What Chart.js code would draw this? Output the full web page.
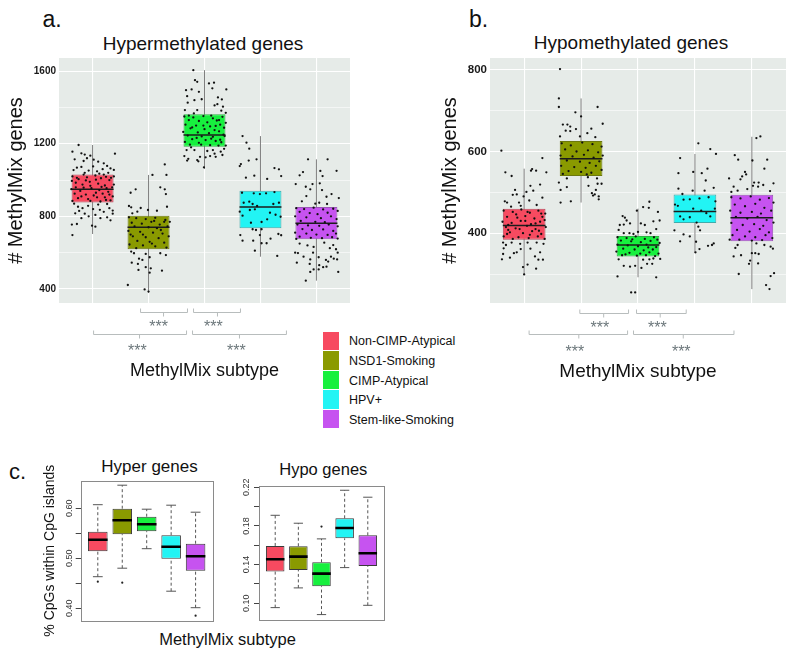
<!DOCTYPE html>
<html>
<head>
<meta charset="utf-8">
<script src="https://cdn.jsdelivr.net/npm/chart.js@4.4.1/dist/chart.umd.min.js"></script>
<style>
  body { margin: 0; background: #fff; width: 790px; height: 651px; overflow: hidden; position: relative;
         font-family: "Liberation Sans", Arial, sans-serif; }
  canvas { position: absolute; }
  .t { position: absolute; transform: translate(-50%, -50%); white-space: nowrap; line-height: 1; color: #111; }
  .lg { position: absolute; white-space: nowrap; line-height: 1; font-size: 12.5px; color: #111; transform: translateY(-50%); }
  .sw { position: absolute; width: 16px; height: 18.5px; }
</style>
</head>
<body>
<div class="t" style="left:52px;top:18.5px;font-size:23px">a.</div>
<div class="t" style="left:478.5px;top:18.5px;font-size:23px">b.</div>
<div class="t" style="left:17.5px;top:472px;font-size:22px">c.</div>
<div class="t" style="left:203px;top:42.7px;font-size:19px">Hypermethylated genes</div>
<div class="t" style="left:631px;top:42.4px;font-size:19px">Hypomethylated genes</div>
<div class="t" style="left:149.5px;top:466px;font-size:17px">Hyper genes</div>
<div class="t" style="left:323.3px;top:469.3px;font-size:16.5px">Hypo genes</div>
<div class="t" style="left:227.5px;top:638.5px;font-size:16.5px">MethylMix subtype</div>
<div id="legend"></div>

<canvas id="chartA" style="left:0;top:0" width="390" height="395"></canvas>
<canvas id="chartB" style="left:400px;top:0" width="390" height="395"></canvas>
<canvas id="chartC1" style="left:0;top:440px" width="230" height="211"></canvas>
<canvas id="chartC2" style="left:230px;top:440px" width="170" height="211"></canvas>

<script>
Chart.defaults.font.family = '"Liberation Sans", Arial, sans-serif';
Chart.defaults.animation = false;

const subtypes = ['Non-CIMP-Atypical', 'NSD1-Smoking', 'CIMP-Atypical', 'HPV+', 'Stem-like-Smoking'];
const subtypeColors = ['#f74a60', '#8a9a00', '#17f03e', '#22f4f4', '#c653f0'];
const boxEdges = ['#b9465a', '#6c780e', '#2fb244', '#40abab', '#9a55b6'];

// a. hypermethylated genes: box stats per subtype
const hyperLo  = [703, 380, 1061, 578, 446];
const hyperQ1  = [877, 619, 1184, 734, 674];
const hyperMed = [949, 740, 1248, 851, 762];
const hyperQ3  = [1031, 804, 1362, 941, 851];
const hyperHi  = [1193, 1028, 1605, 1242, 1114];
const hyperMajor = [400, 800, 1200, 1600];
const hyperGrid = [400, 600, 800, 1000, 1200, 1400, 1600];
// jittered samples: [offset within group, genes]
const hyperPoints = [
  [[-0.25,1193],[-0.36,1156],[-0.20,1147],[-0.04,1134],[-0.14,1140],[-0.10,1120],[0.40,1145],[-0.32,1114],[0.02,1112],[0.10,1101],
   [0.20,1092],[0.26,1078],[-0.16,1105],[-0.20,1072],[0.32,1064],[0.38,1056],[0.18,1060],[0.01,1075],[-0.28,1068],[-0.07,1052],
   [0.08,1048],[-0.34,1055],[-0.14,1040],[0.28,1040],[-0.36,1020],[-0.25,1005],[-0.10,1015],[0.05,1025],[0.15,1010],[0.30,1000],
   [0.38,1020],[-0.30,985],[-0.18,975],[-0.05,990],[0.10,980],[0.22,970],[0.35,960],[-0.38,950],[-0.22,940],[-0.02,955],
   [0.12,945],[0.28,935],[-0.32,925],[-0.12,920],[0.02,915],[0.18,925],[0.36,910],[-0.26,900],[-0.08,895],[0.08,905],
   [0.24,890],[-0.36,885],[0.14,882],[0.32,888],[-0.26,853],[-0.18,845],[0.01,840],[0.13,836],[0.30,845],[-0.31,817],
   [-0.14,815],[-0.07,800],[0.05,808],[0.36,815],[-0.20,790],[0.14,790],[0.26,795],[-0.28,758],[-0.37,755],[-0.01,749],
   [0.32,778],[0.05,743],[-0.36,697],[-0.30,960],[0.20,1030],[-0.16,1030],[0.33,1012],[-0.04,968],[0.25,955],[-0.33,870],
   [-0.12,998],[0.06,1002],[0.24,1018],[-0.28,1012],[0.16,962],[-0.16,958],[0.30,920],[-0.20,910],[0.06,930],[-0.04,885],
   [0.22,905],[0.38,975],[-0.37,995],[0.12,1035],[-0.24,830],[0.20,825],[0.36,832],[-0.08,858],[0.10,865],[0.26,868]],
  [[0.29,1086],[0.07,1028],[0.32,1028],[-0.23,949],[-0.32,930],[0.21,960],[0.29,949],[0.31,923],[-0.35,857],[-0.31,850],
   [-0.14,846],[0.33,853],[0.15,831],[-0.29,817],[-0.20,826],[-0.01,835],[-0.35,795],[-0.22,790],[-0.05,785],[0.12,792],
   [0.30,780],[0.38,770],[-0.30,765],[-0.12,760],[0.05,770],[0.20,755],[-0.25,745],[0.00,740],[0.15,735],[0.34,745],
   [-0.36,720],[-0.15,715],[0.08,710],[0.25,705],[-0.28,690],[-0.05,685],[0.18,680],[0.36,690],[-0.20,665],[0.02,660],
   [0.28,655],[-0.34,645],[-0.10,640],[0.12,635],[0.32,628],[-0.22,625],[-0.31,606],[-0.26,597],[-0.05,593],[0.02,575],
   [0.21,597],[0.31,587],[-0.17,567],[-0.30,545],[-0.19,538],[-0.11,560],[-0.05,520],[0.04,514],[0.24,501],[-0.18,505],
   [0.02,490],[-0.37,422],[-0.07,398],[0.00,386],[0.10,775],[-0.10,700],[0.22,725],[0.28,770],[-0.32,700],[0.06,650]],
  [[-0.20,1605],[-0.17,1550],[-0.13,1541],[0.08,1532],[0.17,1536],[0.14,1505],[-0.33,1495],[-0.23,1499],[-0.10,1486],[0.39,1499],
   [-0.31,1462],[0.24,1455],[0.31,1444],[-0.18,1440],[-0.05,1445],[-0.30,1426],[0.23,1418],[0.18,1411],[-0.13,1385],[0.33,1404],
   [0.30,1382],[-0.35,1385],[-0.19,1367],[0.38,1370],[-0.36,1350],[-0.20,1345],[-0.02,1352],[0.15,1340],[0.32,1348],[-0.28,1330],
   [-0.10,1325],[0.05,1318],[0.22,1328],[0.38,1315],[-0.34,1305],[-0.15,1300],[0.10,1295],[0.28,1305],[-0.25,1285],[0.00,1280],
   [0.18,1275],[0.35,1288],[-0.38,1265],[-0.12,1262],[0.08,1258],[0.26,1268],[-0.30,1245],[-0.05,1240],[0.15,1238],[0.36,1242],
   [-0.22,1225],[0.02,1220],[0.20,1215],[-0.35,1210],[-0.10,1205],[0.30,1208],[-0.26,1195],[0.10,1192],[0.38,1190],[-0.32,1165],
   [-0.24,1180],[0.15,1165],[0.29,1156],[0.32,1138],[0.18,1145],[-0.36,1132],[-0.29,1117],[-0.13,1110],[-0.08,1128],[0.02,1125],
   [0.10,1132],[0.20,1128],[-0.31,1107],[-0.11,1103],[-0.01,1070],[0.26,1330],[-0.22,1290],[0.12,1228],[-0.02,1300],[0.34,1250],
   [-0.06,1195],[0.25,1190],[0.35,1172],[0.05,1160],[-0.18,1165],[0.12,1355],[-0.28,1355],[0.20,1298],[-0.14,1232],[0.28,1222]],
  [[-0.32,1242],[-0.25,1206],[-0.20,1173],[-0.37,1077],[-0.35,1088],[-0.21,1107],[-0.07,1114],[0.25,1066],[0.33,1059],[-0.11,1024],
   [-0.26,1013],[0.12,1006],[0.37,1022],[-0.33,930],[-0.12,927],[-0.01,923],[0.10,927],[0.25,934],[-0.30,875],[-0.20,881],
   [-0.14,868],[-0.06,857],[0.23,868],[0.33,875],[-0.37,826],[-0.19,835],[-0.10,839],[0.17,820],[0.27,809],[0.36,798],
   [-0.17,765],[0.02,769],[-0.32,804],[0.12,784],[-0.14,729],[-0.08,725],[0.02,729],[-0.01,697],[-0.36,697],[0.32,703],
   [0.37,696],[-0.32,666],[-0.13,666],[0.02,652],[0.11,652],[0.18,677],[-0.10,611],[0.30,582]],
  [[-0.15,1114],[0.20,1114],[0.07,1050],[-0.24,1044],[0.36,1051],[0.11,1022],[-0.30,1026],[-0.37,978],[-0.19,963],[-0.07,978],
   [0.06,982],[-0.11,949],[0.10,945],[-0.18,912],[0.18,908],[0.27,923],[0.40,901],[-0.26,883],[0.05,875],[0.19,868],
   [-0.02,870],[-0.36,845],[-0.22,840],[-0.05,848],[0.12,838],[0.30,842],[0.38,830],[-0.30,825],[-0.12,818],[0.02,812],
   [0.20,820],[-0.38,800],[-0.18,795],[0.08,790],[0.26,800],[0.36,785],[-0.28,775],[-0.02,770],[0.15,768],[-0.34,755],
   [-0.15,750],[0.05,748],[0.22,755],[0.38,745],[-0.25,730],[-0.08,725],[0.12,728],[0.30,720],[-0.38,710],[-0.18,705],
   [0.00,700],[0.20,698],[0.35,705],[-0.30,688],[-0.10,682],[0.10,680],[0.28,685],[-0.36,676],[0.38,678],[-0.38,600],
   [-0.33,598],[-0.06,600],[-0.23,578],[0.04,575],[-0.11,563],[0.35,619],[0.38,600],[0.26,578],[0.31,567],[0.17,560],
   [0.21,551],[0.37,563],[-0.35,545],[-0.12,538],[0.05,531],[0.18,523],[0.39,494],[-0.11,494],[-0.05,508],[0.04,508],
   [-0.19,446],[0.12,520],[-0.30,650],[-0.16,640],[0.14,655],[0.30,642],[-0.05,632],[0.24,625]]
];

// b. hypomethylated genes
const hypoLo  = [298, 475, 292, 351, 263];
const hypoQ1  = [384, 540, 343, 425, 380];
const hypoMed = [419, 582, 371, 453, 438];
const hypoQ3  = [460, 626, 393, 495, 494];
const hypoHi  = [558, 730, 460, 594, 636];
const hypoMajor = [400, 600, 800];
const hypoGrid = [300, 400, 500, 600, 700, 800];
const hypoPoints = [
  [[-0.40,602],[-0.33,549],[-0.22,540],[0.14,557],[0.12,553],[0.21,553],[0.39,549],[0.32,584],[-0.16,506],[0.11,516],
   [0.28,519],[-0.20,494],[-0.13,495],[-0.01,490],[0.04,501],[0.16,504],[-0.34,478],[-0.30,475],[-0.09,475],[0.09,480],
   [0.22,469],[0.32,487],[-0.23,465],[-0.06,467],[-0.36,455],[-0.20,452],[-0.05,458],[0.10,450],[0.25,455],[0.37,448],
   [-0.30,440],[-0.12,438],[0.02,442],[0.18,436],[0.32,440],[-0.38,428],[-0.22,425],[-0.06,430],[0.12,422],[0.28,428],
   [-0.32,415],[-0.15,412],[0.05,418],[0.20,410],[0.38,415],[-0.25,402],[-0.02,400],[0.14,405],[0.30,398],[-0.36,392],
   [-0.10,390],[0.08,388],[0.24,392],[-0.20,386],[0.36,386],[-0.37,377],[-0.32,371],[-0.22,377],[-0.07,374],[0.06,377],
   [0.22,377],[0.34,374],[-0.36,363],[0.11,362],[-0.18,351],[-0.13,353],[0.28,353],[-0.37,349],[-0.25,340],[-0.06,361],
   [0.19,343],[0.25,335],[-0.39,336],[0.33,335],[0.06,323],[-0.02,317],[0.21,313],[0.00,299],[0.36,432],[-0.28,408],
   [-0.14,446],[0.06,452],[0.30,448],[-0.28,420],[0.20,424],[-0.08,410],[0.10,396],[-0.30,398],[0.26,406],[0.02,430]],
  [[-0.37,802],[-0.39,730],[-0.39,709],[0.29,709],[-0.10,696],[0.00,686],[0.38,668],[-0.32,666],[-0.24,666],[-0.19,661],
   [-0.27,651],[-0.19,650],[-0.09,655],[0.18,656],[0.11,645],[-0.37,637],[-0.02,637],[0.25,635],[-0.34,620],[-0.18,615],
   [0.02,622],[0.20,618],[0.36,612],[-0.28,605],[-0.08,600],[0.12,603],[0.30,598],[-0.36,590],[-0.15,588],[0.05,592],
   [0.22,585],[0.38,590],[-0.25,578],[-0.02,575],[0.15,572],[0.32,576],[-0.35,565],[-0.12,562],[0.08,560],[0.26,565],
   [-0.22,552],[0.00,550],[0.18,548],[0.36,555],[-0.32,545],[0.10,544],[-0.25,534],[0.12,537],[0.28,534],[-0.39,524],
   [-0.25,513],[0.13,516],[0.29,521],[0.36,521],[-0.36,506],[0.26,506],[0.19,498],[0.24,495],[0.31,490],[0.21,492],
   [-0.18,478],[-0.36,475],[0.31,483]],
  [[-0.27,442],[-0.23,438],[-0.20,431],[-0.14,424],[-0.25,421],[-0.32,420],[-0.02,455],[-0.34,408],[-0.25,400],[-0.15,400],
   [-0.08,398],[0.00,403],[0.20,477],[0.09,464],[0.19,462],[0.35,452],[0.05,424],[0.12,420],[0.27,429],[0.38,431],
   [0.32,410],[0.22,400],[0.15,402],[-0.36,390],[-0.20,388],[-0.04,392],[0.12,386],[0.28,390],[-0.30,382],[-0.12,380],
   [0.05,378],[0.22,381],[0.38,376],[-0.36,372],[-0.18,370],[0.00,368],[0.15,372],[0.32,366],[-0.26,362],[-0.06,360],
   [0.10,358],[0.26,360],[-0.38,355],[-0.15,352],[0.04,350],[0.20,353],[0.36,350],[-0.28,346],[-0.02,345],[0.14,346],
   [0.30,344],[-0.34,336],[-0.25,320],[-0.14,318],[-0.05,320],[-0.36,294],[-0.12,255],[-0.05,255],[0.09,335],[0.20,336],
   [0.27,338],[0.39,337],[0.16,325],[0.06,315],[0.25,325],[0.32,292],[-0.10,385],[0.18,365],[-0.22,348],[0.34,384]],
  [[0.06,620],[0.27,606],[0.37,594],[-0.26,584],[-0.03,550],[0.22,558],[0.12,547],[-0.29,547],[0.19,529],[-0.29,509],
   [-0.04,504],[0.17,504],[0.33,511],[-0.22,496],[-0.20,482],[-0.09,483],[0.08,485],[0.24,488],[0.36,478],[-0.30,467],
   [-0.03,460],[0.11,455],[0.20,449],[-0.26,441],[-0.09,439],[0.27,441],[-0.20,434],[0.03,426],[-0.35,470],[0.35,460],
   [-0.36,407],[-0.20,397],[-0.09,392],[0.06,416],[0.09,407],[-0.26,380],[0.02,379],[0.08,361],[0.23,369],[0.30,371],
   [0.33,375],[0.01,353]],
  [[0.08,633],[0.15,637],[-0.30,591],[-0.24,580],[0.01,578],[0.27,580],[0.22,558],[-0.12,550],[-0.17,539],[-0.10,544],
   [-0.40,534],[-0.20,532],[0.04,524],[0.02,516],[0.12,524],[0.20,518],[0.38,522],[-0.32,514],[-0.25,504],[-0.08,508],
   [0.32,503],[0.11,514],[-0.36,501],[-0.36,488],[-0.20,485],[-0.02,490],[0.14,482],[0.30,486],[0.38,475],[-0.30,470],
   [-0.12,466],[0.06,472],[0.22,462],[-0.38,455],[-0.20,450],[0.00,452],[0.16,448],[0.34,455],[-0.28,440],[-0.08,436],
   [0.10,440],[0.26,432],[-0.36,425],[-0.16,420],[0.04,422],[0.20,418],[0.38,426],[-0.26,408],[-0.04,404],[0.14,410],
   [0.30,402],[-0.34,395],[-0.12,392],[0.06,390],[0.24,395],[0.36,388],[-0.22,384],[0.00,382],[0.18,383],[-0.39,384],
   [-0.25,371],[-0.29,364],[0.08,375],[0.22,371],[0.33,367],[0.37,362],[-0.32,343],[-0.19,346],[0.00,351],[0.06,351],
   [0.12,349],[-0.03,333],[-0.05,325],[0.11,326],[-0.23,300],[0.39,302],[0.33,295],[0.25,273],[0.31,263]]
];

// c. % CpGs within CpG islands
const cpgHyperLo  = [0.463, 0.480, 0.519, 0.434, 0.401];
const cpgHyperQ1  = [0.514, 0.548, 0.554, 0.499, 0.475];
const cpgHyperMed = [0.537, 0.576, 0.568, 0.523, 0.504];
const cpgHyperQ3  = [0.553, 0.599, 0.583, 0.546, 0.529];
const cpgHyperHi  = [0.607, 0.646, 0.598, 0.606, 0.592];
const cpgHyperOut = [[0.453], [0.451], [], [], [0.385]];
const cpgHyperTicks = [0.40, 0.45, 0.50, 0.55, 0.60];
const cpgHyperLabels = [0.40, 0.50, 0.60];

const cpgHypoLo  = [0.0955, 0.1159, 0.0883, 0.1369, 0.0979];
const cpgHypoQ1  = [0.1328, 0.1345, 0.1176, 0.1672, 0.1386];
const cpgHypoMed = [0.1455, 0.1483, 0.1307, 0.1779, 0.1517];
const cpgHypoQ3  = [0.1593, 0.1590, 0.1424, 0.1879, 0.1703];
const cpgHypoHi  = [0.1910, 0.1828, 0.1666, 0.2169, 0.2097];
const cpgHypoOut = [[], [], [0.1793], [], []];
const cpgHypoTicks = [0.10, 0.12, 0.14, 0.16, 0.18, 0.20, 0.22];
const cpgHypoLabels = [0.10, 0.14, 0.18, 0.22];

const groupPos = [1, 2, 3, 4, 5];

// legend
const legendBox = document.getElementById('legend');
subtypes.forEach((name, i) => {
  const sw = document.createElement('div');
  sw.className = 'sw';
  sw.style.left = '323px';
  sw.style.top = (331.5 + i * 19.6) + 'px';
  sw.style.background = subtypeColors[i];
  legendBox.appendChild(sw);
  const lb = document.createElement('div');
  lb.className = 'lg';
  lb.style.left = '349px';
  lb.style.top = (341.2 + i * 19.7) + 'px';
  lb.textContent = name;
  legendBox.appendChild(lb);
});

function segs(pairs) {
  const out = [];
  pairs.forEach(p => { out.push(p[0], p[1], {x: p[0].x, y: null}); });
  return out;
}

const panelBg = {
  id: 'panelBg',
  beforeDraw(chart, args, o) {
    if (!o.color) return;
    const {ctx, chartArea: a} = chart;
    ctx.save();
    ctx.fillStyle = o.color;
    ctx.fillRect(a.left, a.top, a.width, a.height);
    ctx.restore();
  }
};

const brackets = {
  id: 'brackets',
  afterDraw(chart, args, o) {
    if (!o.items) return;
    const {ctx, chartArea} = chart;
    const xs = chart.scales.x;
    ctx.save();
    ctx.strokeStyle = '#b8bdbd';
    ctx.lineWidth = 1;
    ctx.fillStyle = '#6c777b';
    ctx.font = '16px "Liberation Sans", Arial, sans-serif';
    ctx.textAlign = 'center';
    ctx.textBaseline = 'middle';
    o.items.forEach(b => {
      const x1 = xs.getPixelForValue(b.from), x2 = xs.getPixelForValue(b.to), xm = xs.getPixelForValue(b.mid);
      const y = Math.round(chartArea.bottom + b.drop) + 0.5;
      ctx.beginPath();
      ctx.moveTo(x1, y - 4); ctx.lineTo(x1, y); ctx.lineTo(x2, y); ctx.lineTo(x2, y - 4);
      ctx.moveTo(xm, y); ctx.lineTo(xm, y + 4);
      ctx.stroke();
      ctx.fillText('***', xs.getPixelForValue(b.star), y + b.gap);
    });
    ctx.restore();
  }
};

function ggBoxChart(id, d) {
  const whisk = segs(groupPos.map((k, i) => [{x: k, y: d.lo[i]}, {x: k, y: d.hi[i]}]));
  const meds = segs(groupPos.map((k, i) => [{x: k - 0.375, y: d.med[i]}, {x: k + 0.375, y: d.med[i]}]));
  const pts = [];
  d.points.forEach((grp, i) => grp.forEach(p => pts.push({x: groupPos[i] + p[0], y: p[1]})));
  return new Chart(document.getElementById(id), {
    type: 'bar',
    data: {
      datasets: [
        {type: 'line', data: whisk, borderColor: '#7f7f7f', borderWidth: 1, pointRadius: 0, spanGaps: false, order: 4},
        {type: 'bar', data: groupPos.map((k, i) => ({x: k, y: [d.q1[i], d.q3[i]]})),
         backgroundColor: subtypeColors, borderColor: boxEdges, borderWidth: 1, borderSkipped: false,
         barPercentage: 0.75, categoryPercentage: 1, order: 3},
        {type: 'line', data: meds, borderColor: '#1c1c1c', borderWidth: 1.5, pointRadius: 0, spanGaps: false, order: 2},
        {type: 'scatter', data: pts, pointRadius: 1.15, pointBackgroundColor: '#111', pointBorderWidth: 0, order: 1}
      ]
    },
    options: {
      responsive: false,
      events: [],
      layout: {padding: d.pad},
      scales: {
        x: {
          type: 'linear', min: 0.4, max: 5.6, offset: false,
          afterBuildTicks: s => { s.ticks = groupPos.map(v => ({value: v})); },
          afterFit: s => { s.height = d.xHeight; },
          grid: {color: '#ffffff', lineWidth: 1.1, drawTicks: false, offset: false},
          border: {display: false},
          ticks: {display: false},
          title: {display: true, text: 'MethylMix subtype', color: '#111',
                  font: {size: d.xTitleSize}, padding: {top: 0, bottom: 4}}
        },
        y: {
          type: 'linear', min: d.yMin, max: d.yMax, beginAtZero: false,
          afterBuildTicks: s => { s.ticks = d.grid.map(v => ({value: v})); },
          afterFit: s => { s.width = d.yWidth; },
          grid: {color: '#ffffff', drawTicks: false,
                 lineWidth: c => d.major.includes(c.tick.value) ? 1.1 : 0.55},
          border: {display: false},
          ticks: {padding: 3, color: '#1a1a1a', font: {size: d.tickSize, weight: 'bold'},
                  callback: v => d.major.includes(v) ? String(v) : ''},
          title: {display: true, text: '# MethylMix genes', color: '#111',
                  font: {size: 20}, padding: {top: d.yTitlePad, bottom: 0}}
        }
      },
      plugins: {
        legend: {display: false},
        tooltip: {enabled: false},
        panelBg: {color: '#e6ebe8'},
        brackets: {items: d.brackets}
      }
    },
    plugins: [panelBg, brackets]
  });
}

ggBoxChart('chartA', {
  lo: hyperLo, q1: hyperQ1, med: hyperMed, q3: hyperQ3, hi: hyperHi, points: hyperPoints,
  yMin: 323, yMax: 1672, major: hyperMajor, grid: hyperGrid, tickSize: 10,
  yWidth: 59, yTitlePad: 4.7, xHeight: 83, xTitleSize: 18,
  pad: {top: 58, left: 0, right: 40, bottom: 9},
  brackets: [
    {from: 1.857, to: 2.696, mid: 2.268, star: 2.18, drop: 9, gap: 15},
    {from: 2.804, to: 3.643, mid: 3.232, star: 3.16, drop: 9, gap: 15},
    {from: 1.018, to: 2.679, mid: 1.839, star: 1.80, drop: 31, gap: 17},
    {from: 2.786, to: 4.464, mid: 3.625, star: 3.571, drop: 31, gap: 17}
  ]
});

ggBoxChart('chartB', {
  lo: hypoLo, q1: hypoQ1, med: hypoMed, q3: hypoQ3, hi: hypoHi, points: hypoPoints,
  yMin: 229, yMax: 829, major: hypoMajor, grid: hypoGrid, tickSize: 11.5,
  yWidth: 90, yTitlePad: 38, xHeight: 84.6, xTitleSize: 19,
  pad: {top: 58, left: 0, right: 0, bottom: 7.4},
  brackets: [
    {from: 1.978, to: 2.834, mid: 2.397, star: 2.33, drop: 10, gap: 14.6},
    {from: 2.974, to: 3.847, mid: 3.39, star: 3.34, drop: 10, gap: 14.6},
    {from: 1.087, to: 2.817, mid: 1.96, star: 1.89, drop: 31, gap: 17.7},
    {from: 2.921, to: 4.686, mid: 3.795, star: 3.76, drop: 31, gap: 17.7}
  ]
});

const frameAndLabels = {
  id: 'frameAndLabels',
  afterDraw(chart, args, o) {
    const {ctx, chartArea: a} = chart;
    const ys = chart.scales.y;
    ctx.save();
    ctx.strokeStyle = '#8a8a8a';
    ctx.lineWidth = 1;
    ctx.strokeRect(Math.round(a.left) + 0.5, Math.round(a.top) + 0.5, Math.round(a.width), Math.round(a.height));
    ctx.fillStyle = '#333';
    ctx.font = '9px "Liberation Sans", Arial, sans-serif';
    ctx.textAlign = 'center';
    ctx.textBaseline = 'middle';
    o.labels.forEach(v => {
      ctx.save();
      ctx.translate(a.left - o.offset, ys.getPixelForValue(v));
      ctx.rotate(-Math.PI / 2);
      ctx.fillText(v.toFixed(2), 0, 0);
      ctx.restore();
    });
    ctx.restore();
  }
};

function baseBoxChart(id, d) {
  const upper = groupPos.map((k, i) => [{x: k, y: d.q3[i]}, {x: k, y: d.hi[i]}]);
  const lower = groupPos.map((k, i) => [{x: k, y: d.lo[i]}, {x: k, y: d.q1[i]}]);
  const staples = groupPos.map((k, i) => [{x: k - 0.2, y: d.hi[i]}, {x: k + 0.2, y: d.hi[i]}])
    .concat(groupPos.map((k, i) => [{x: k - 0.2, y: d.lo[i]}, {x: k + 0.2, y: d.lo[i]}]));
  const meds = groupPos.map((k, i) => [{x: k - 0.4, y: d.med[i]}, {x: k + 0.4, y: d.med[i]}]);
  const outs = [];
  d.out.forEach((grp, i) => grp.forEach(v => outs.push({x: groupPos[i], y: v})));
  return new Chart(document.getElementById(id), {
    type: 'bar',
    data: {
      datasets: [
        {type: 'line', data: segs(upper.concat(lower)), borderColor: '#555', borderWidth: 1, borderDash: [3, 2.5],
         pointRadius: 0, spanGaps: false, order: 4},
        {type: 'line', data: segs(staples), borderColor: '#555', borderWidth: 1, pointRadius: 0, spanGaps: false, order: 4},
        {type: 'bar', data: groupPos.map((k, i) => ({x: k, y: [d.q1[i], d.q3[i]]})),
         backgroundColor: subtypeColors, borderColor: '#3a3a3a', borderWidth: 1, borderSkipped: false,
         barPercentage: 0.8, categoryPercentage: 1, order: 3},
        {type: 'line', data: segs(meds), borderColor: '#000', borderWidth: 2.6, pointRadius: 0, spanGaps: false, order: 2},
        {type: 'scatter', data: outs, pointRadius: 1.1, pointBackgroundColor: '#222', pointBorderWidth: 0, order: 1}
      ]
    },
    options: {
      responsive: false,
      events: [],
      layout: {padding: d.pad},
      scales: {
        x: {
          type: 'linear', display: false, min: 0.3, max: 5.7, offset: false,
          afterBuildTicks: s => { s.ticks = groupPos.map(v => ({value: v})); }
        },
        y: {
          type: 'linear', min: d.yMin, max: d.yMax, beginAtZero: false,
          afterBuildTicks: s => { s.ticks = d.ticks.map(v => ({value: v})); },
          afterFit: s => { s.width = d.yWidth; },
          grid: {drawOnChartArea: false, drawTicks: true, tickLength: 5, color: '#444', lineWidth: 1},
          border: {display: false},
          ticks: {display: false},
          title: {display: !!d.yTitle, text: d.yTitle || '', color: '#111',
                  font: {size: 14}, padding: {top: 41.6, bottom: 0}}
        }
      },
      plugins: {
        legend: {display: false},
        tooltip: {enabled: false},
        frameAndLabels: {labels: d.labels, offset: d.labelOffset}
      }
    },
    plugins: [frameAndLabels]
  });
}

baseBoxChart('chartC1', {
  lo: cpgHyperLo, q1: cpgHyperQ1, med: cpgHyperMed, q3: cpgHyperQ3, hi: cpgHyperHi, out: cpgHyperOut,
  yMin: 0.375, yMax: 0.655, ticks: cpgHyperTicks, labels: cpgHyperLabels, labelOffset: 10.7,
  yWidth: 80.7, yTitle: '% CpGs within CpG islands',
  pad: {top: 40.7, left: 0, right: 17.3, bottom: 30.3}
});

baseBoxChart('chartC2', {
  lo: cpgHypoLo, q1: cpgHypoQ1, med: cpgHypoMed, q3: cpgHypoQ3, hi: cpgHypoHi, out: cpgHypoOut,
  yMin: 0.0827, yMax: 0.2213, ticks: cpgHypoTicks, labels: cpgHypoLabels, labelOffset: 12,
  yWidth: 29, yTitle: null,
  pad: {top: 46, left: 0, right: 16, bottom: 31}
});
</script>
</body>
</html>
